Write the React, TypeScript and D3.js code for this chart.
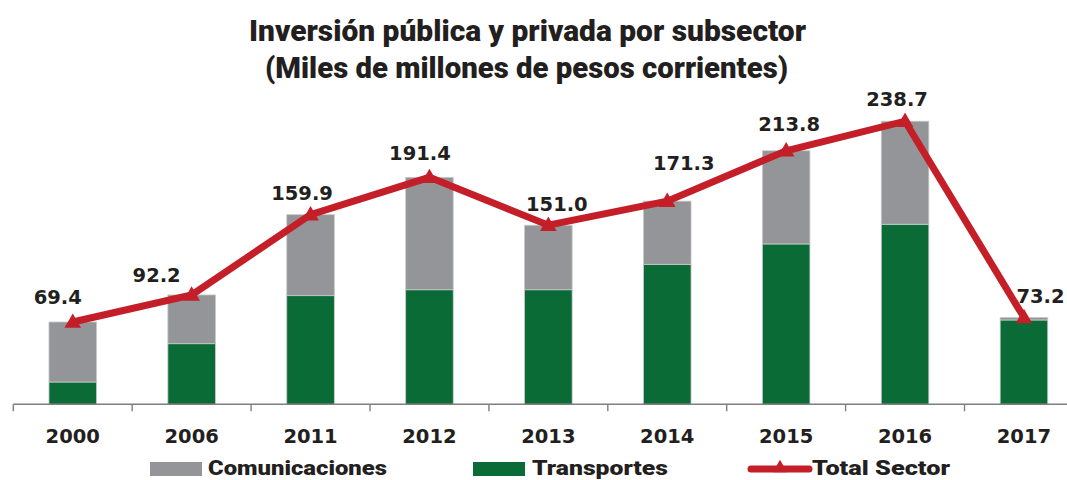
import React from "react";
import * as d3 from "d3";

const years = ["2000", "2006", "2011", "2012", "2013", "2014", "2015", "2016", "2017"];
const transportes = [18.8, 51.1, 91.6, 96.6, 96.6, 118.0, 135.2, 151.8, 71.1];
const comunicaciones = [50.6, 41.1, 68.3, 94.8, 54.4, 53.3, 78.6, 86.9, 2.1];
const totalSector = [69.4, 92.2, 159.9, 191.4, 151.0, 171.3, 213.8, 238.7, 73.2];
const totalLabels = ["69.4", "92.2", "159.9", "191.4", "151.0", "171.3", "213.8", "238.7", "73.2"];
// layout: label nudges (px) relative to each point
const labelNudge: [number, number][] = [
  [-15, -25], [-35, -20], [-8.5, -22], [-9.5, -24], [8.5, -21], [16.5, -38.5], [3, -26.5], [-8, -22], [16.5, -21.5],
];

const W = 1067;
const H = 480;
const GRAY = "#939598";
const GREEN = "#0a6b37";
const RED = "#c41f28";
const TEXT = "#231f20";
const TITLE_FONT = "Roboto, 'Open Sans', sans-serif";
const NUM_FONT = "'DejaVu Sans', sans-serif";

export default function App() {
  const x0 = 13.3;
  const step = 118.9;
  const x = d3.scaleBand<string>().domain(years).range([x0, x0 + step * years.length]).padding(0);
  const y = d3.scaleLinear().domain([0, 250]).range([404.3, 404.3 - 250 * 1.186]);
  const barW = x.bandwidth() * 0.4;
  const cx = (yr: string) => (x(yr) as number) + x.bandwidth() / 2;

  const stacked = d3.stack<any>().keys(["t", "c"])(
    years.map((yr, i) => ({ yr, t: transportes[i], c: comunicaciones[i] }))
  );
  const colors = [GREEN, GRAY];

  const line = d3
    .line<number>()
    .x((_, i) => cx(years[i]))
    .y((d) => y(d));

  const tri = d3.symbol().type(d3.symbolTriangle).size(120)() as string;
  const legTri = d3.symbol().type(d3.symbolTriangle).size(90)() as string;

  const baseY = y(0);

  return (
    <svg
      width={W}
      height={H}
      style={{ position: "absolute", left: 0, top: 0, background: "#fff" }}
      xmlns="http://www.w3.org/2000/svg"
    >
      {/* Title */}
      <text x={249} y={41} fontFamily={TITLE_FONT} fontWeight={900} fontSize={30} fill={TEXT}
        textLength={557} lengthAdjust="spacingAndGlyphs">
        Inversión pública y privada por subsector
      </text>
      <text x={265} y={78} fontFamily={TITLE_FONT} fontWeight={900} fontSize={30} fill={TEXT}
        textLength={523} lengthAdjust="spacingAndGlyphs">
        (Miles de millones de pesos corrientes)
      </text>

      {/* Bars */}
      {stacked.map((layer, li) => (
        <g key={li}>
          {layer.map((d, i) => (
            <rect
              key={i}
              x={cx(years[i]) - barW / 2}
              y={y(d[1])}
              width={barW}
              height={y(d[0]) - y(d[1])}
              fill={colors[li]}
              stroke="#c9c9c9"
              strokeWidth={0.8}
            />
          ))}
        </g>
      ))}

      {/* Axis */}
      <line x1={x0} x2={W + 30} y1={baseY} y2={baseY} stroke="#7f7f7f" strokeWidth={1.4} />
      {d3.range(years.length + 1).map((k) => (
        <line key={k} x1={x0 + k * step} x2={x0 + k * step} y1={baseY} y2={baseY + 7}
          stroke="#7f7f7f" strokeWidth={1.4} />
      ))}
      {years.map((yr) => (
        <text key={yr} x={cx(yr)} y={443} textAnchor="middle" fontFamily={NUM_FONT}
          fontWeight="bold" fontSize={19.5} fill={TEXT}>
          {yr}
        </text>
      ))}

      {/* Total line */}
      <path d={line(totalSector) as string} fill="none" stroke={RED} strokeWidth={7} strokeLinejoin="miter" />
      {totalSector.map((v, i) => (
        <path key={i} d={tri} transform={`translate(${cx(years[i])},${y(v) + 1})`} fill={RED} />
      ))}
      {totalSector.map((v, i) => (
        <text key={i} x={cx(years[i]) + labelNudge[i][0]} y={y(v) + labelNudge[i][1] + 7}
          textAnchor="middle" fontFamily={NUM_FONT} fontWeight="bold" fontSize={19.5} fill={TEXT}>
          {totalLabels[i]}
        </text>
      ))}

      {/* Legend */}
      <rect x={150} y={462} width={52} height={14} fill={GRAY} />
      <text x={208} y={475} fontFamily={TITLE_FONT} fontWeight={900} fontSize={21} fill={TEXT}
        textLength={179} lengthAdjust="spacingAndGlyphs">Comunicaciones</text>
      <rect x={473} y={462} width={52} height={14} fill={GREEN} />
      <text x={532} y={475} fontFamily={TITLE_FONT} fontWeight={900} fontSize={21} fill={TEXT}
        textLength={136} lengthAdjust="spacingAndGlyphs">Transportes</text>
      <line x1={751} x2={809} y1={469} y2={469} stroke={RED} strokeWidth={7} strokeLinecap="round" />
      <path d={legTri} transform="translate(780,468)" fill={RED} />
      <text x={812} y={475} fontFamily={TITLE_FONT} fontWeight={900} fontSize={21} fill={TEXT}
        textLength={138} lengthAdjust="spacingAndGlyphs">Total Sector</text>
    </svg>
  );
}
